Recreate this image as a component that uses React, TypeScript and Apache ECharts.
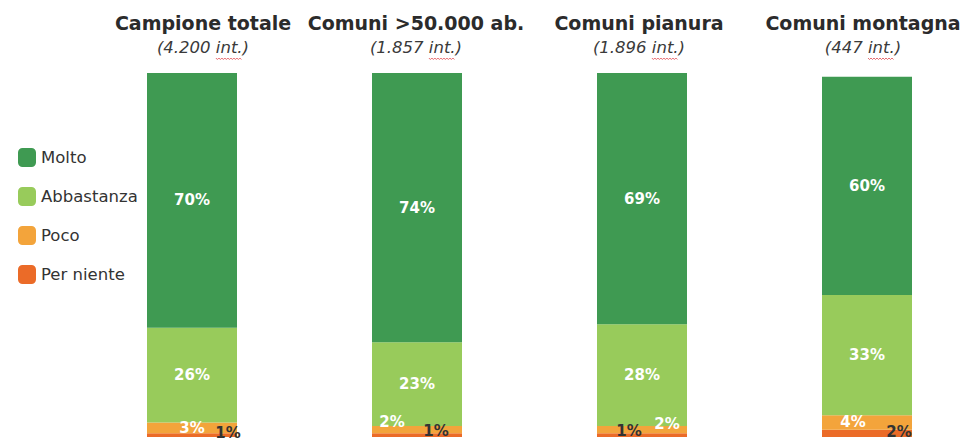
import React, { useEffect, useRef } from "react";
import * as echarts from "echarts";

const categories = ["Campione totale", "Comuni >50.000 ab.", "Comuni pianura", "Comuni montagna"];
const sampleSizes = ["4.200", "1.857", "1.896", "447"];
const seriesNames = ["Molto", "Abbastanza", "Poco", "Per niente"];
const molto = [70, 74, 69, 60];
const abbastanza = [26, 23, 28, 33];
const poco = [3, 2, 2, 4];
const perNiente = [1, 1, 1, 2];

const colors: Record<string, string> = {
  Molto: "#3f9a52",
  Abbastanza: "#98cb5b",
  Poco: "#f3a43b",
  "Per niente": "#eb6b28",
};

// layout constants
const titleX = [203, 416, 639, 863];
const pocoOffsets = [[0, 0], [-25, -8], [25, -6], [-14, 0]];
const perNienteOffsets = [[36, -2], [19, -4], [-13, -4], [32, -1]];
const FONT = "DejaVu Sans";

export default function App() {
  const ref = useRef<HTMLDivElement>(null);
  useEffect(() => {
    if (!ref.current) return;
    const chart = echarts.init(ref.current, undefined, { renderer: "svg" });

    const ctx = document.createElement("canvas").getContext("2d")!;
    const subFont = `italic 16.5px "${FONT}"`;
    ctx.font = subFont;

    const graphics: any[] = [];
    categories.forEach((c, i) => {
      const sub = `(${sampleSizes[i]} int.)`;
      graphics.push({
        type: "text",
        x: titleX[i],
        y: 23,
        style: {
          text: c,
          font: `bold 19px "${FONT}"`,
          fill: "#2b2b2b",
          textAlign: "center",
          textVerticalAlign: "middle",
        },
      });
      graphics.push({
        type: "text",
        x: titleX[i],
        y: 47,
        style: {
          text: sub,
          font: subFont,
          fill: "#3a3a3a",
          textAlign: "center",
          textVerticalAlign: "middle",
        },
      });
      const full = ctx.measureText(sub).width;
      const pre = ctx.measureText(`(${sampleSizes[i]} `).width;
      const w = ctx.measureText("int.").width;
      const start = titleX[i] - full / 2 + pre;
      const pts: number[][] = [];
      let k = 0;
      for (let x = start; x <= start + w; x += 1.5) {
        pts.push([x, 58 + (k % 2 === 0 ? 0 : 1.5)]);
        k++;
      }
      graphics.push({
        type: "polyline",
        shape: { points: pts },
        style: { stroke: "#e0474c", lineWidth: 0.8, fill: null },
      });
    });

    const baseLabel = {
      show: true,
      position: "inside",
      color: "#ffffff",
      fontFamily: FONT,
      fontWeight: "bold",
      fontSize: 15,
      formatter: "{c}%",
    };

    const mk = (name: string, values: number[], offsets?: number[][], dark?: boolean) => ({
      name,
      type: "bar",
      stack: "total",
      barWidth: 90,
      itemStyle: { color: colors[name] },
      label: { ...baseLabel, color: dark ? "#333333" : "#ffffff" },
      data: values.map((v, i) => ({
        value: v,
        label: offsets ? { offset: offsets[i] } : undefined,
      })),
    });

    chart.setOption({
      animation: false,
      graphic: graphics,
      legend: {
        data: seriesNames,
        orient: "vertical",
        left: 13,
        top: 143,
        itemWidth: 18,
        itemHeight: 19,
        itemGap: 20,
        icon: "roundRect",
        textStyle: { fontFamily: FONT, fontSize: 16.5, color: "#333333" },
        selectedMode: false,
      },
      grid: { left: 192, width: 675, top: 73, height: 364 },
      xAxis: {
        type: "category",
        data: categories,
        boundaryGap: false,
        show: false,
      },
      yAxis: { type: "value", min: 0, max: 100, show: false },
      series: [
        mk("Per niente", perNiente, perNienteOffsets, true),
        mk("Poco", poco, pocoOffsets),
        mk("Abbastanza", abbastanza),
        mk("Molto", molto),
      ],
    });
    return () => chart.dispose();
  }, []);
  return (
    <div
      ref={ref}
      style={{ position: "absolute", left: 0, top: 0, width: 965, height: 441, background: "#ffffff" }}
    />
  );
}
